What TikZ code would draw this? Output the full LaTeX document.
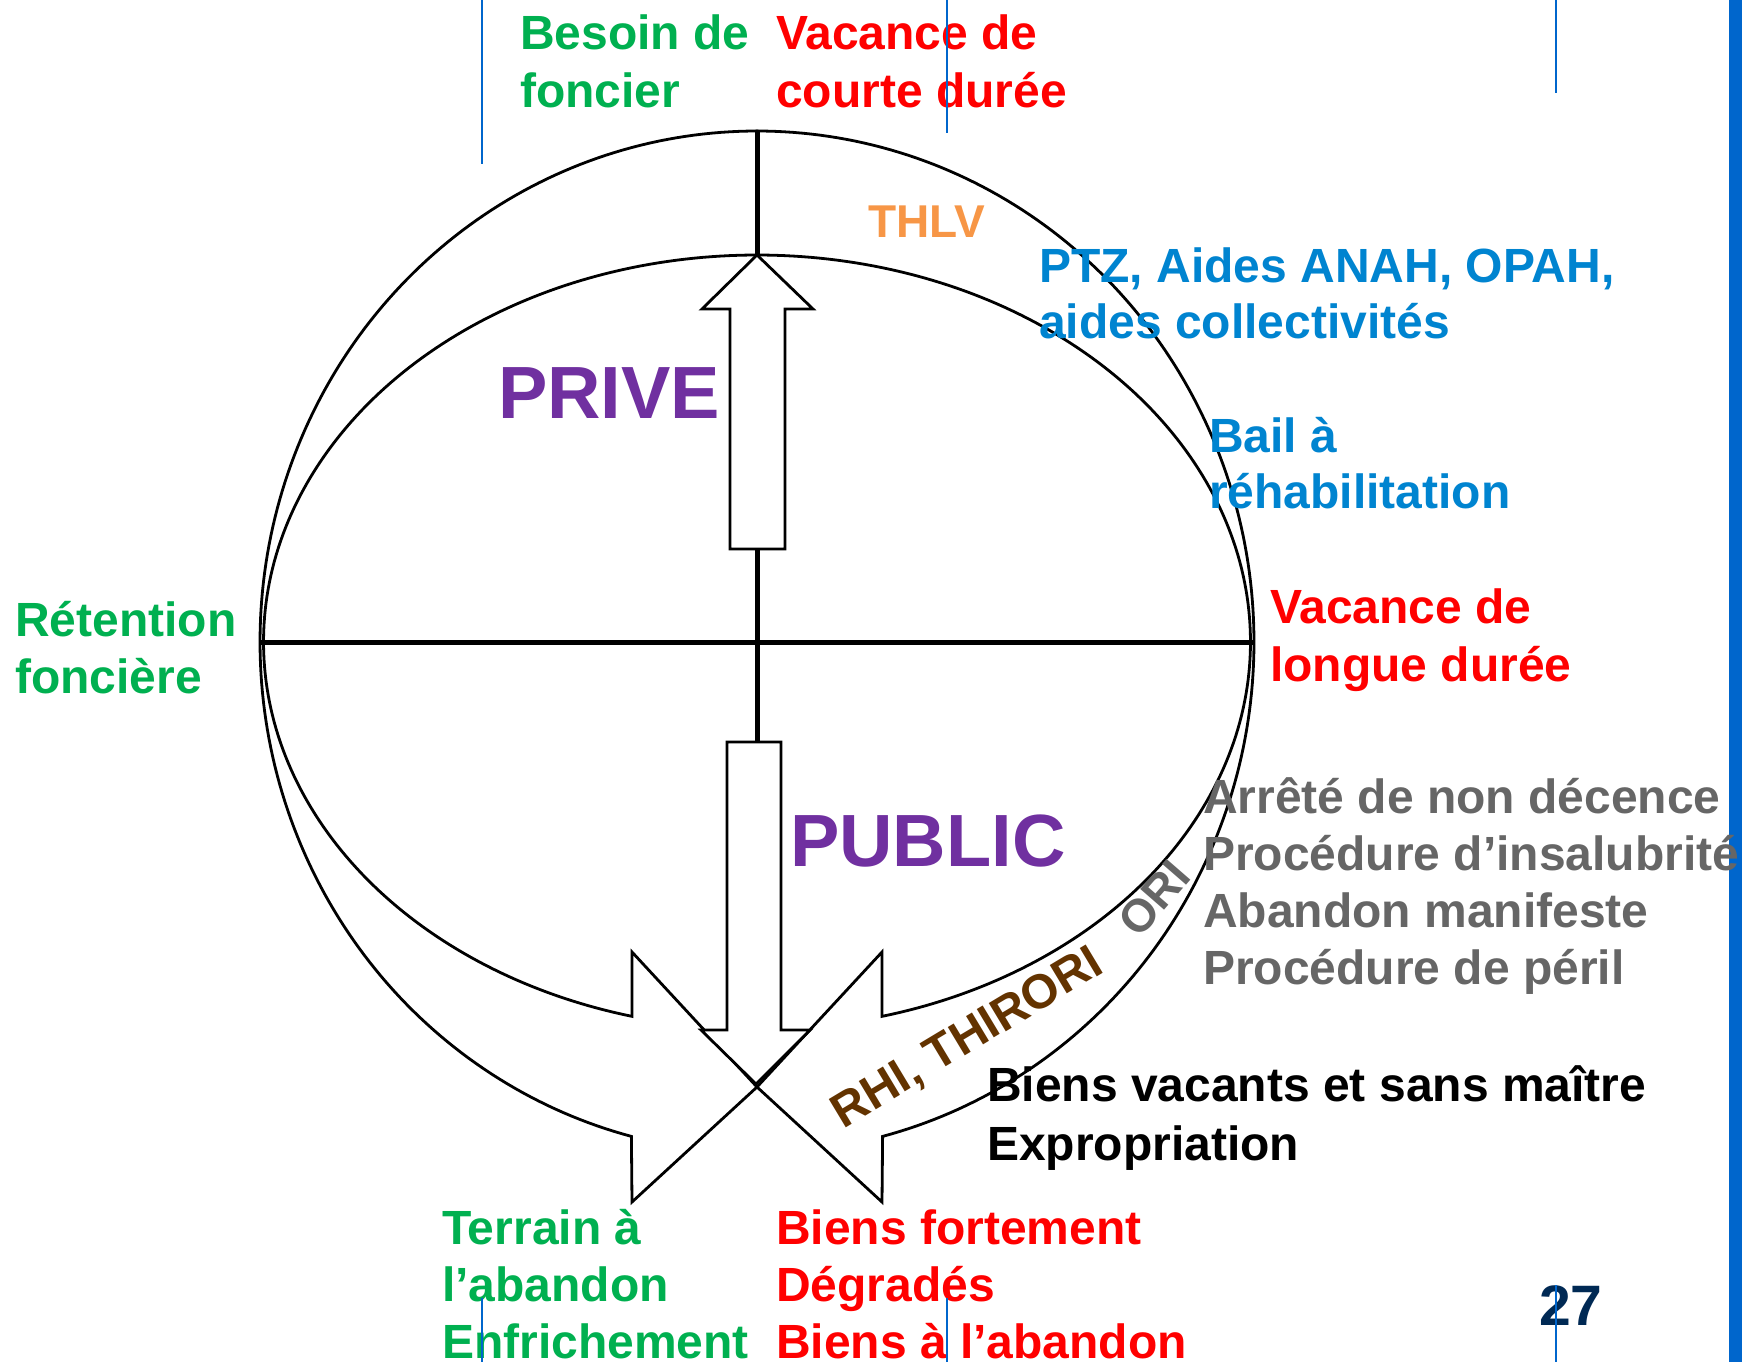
\documentclass[tikz,border=0pt]{standalone}
\usepackage{fontspec}
\setmainfont{Liberation Sans}
\definecolor{cgreen}{RGB}{0,176,80}
\definecolor{cred}{RGB}{255,0,0}
\definecolor{corange}{RGB}{247,150,70}
\definecolor{cblue}{RGB}{0,132,208}
\definecolor{cgray}{RGB}{102,102,102}
\definecolor{cpurple}{RGB}{112,48,160}
\definecolor{cbrown}{RGB}{99,51,0}
\definecolor{cnavy}{RGB}{0,41,84}
\definecolor{cbar}{RGB}{0,102,204}
\begin{document}
\begin{tikzpicture}[x=1pt,y=-1pt,
  lbl/.style={inner sep=0pt, anchor=base west, font=\fontsize{48}{58}\selectfont\bfseries},
  big/.style={inner sep=0pt, anchor=base west, font=\fontsize{74}{88}\selectfont\bfseries, text=cpurple},
  outline/.style={draw=black, line width=2.8pt, line join=miter},
  axis/.style={draw=black, line width=5pt},
  guide/.style={draw=cbar, line width=1.3pt}]
\useasboundingbox (0,0) rectangle (1742,1362);
\fill[white] (0,0) rectangle (1742,1362);

% right-hand slide bar
\fill[cbar] (1729,0) rectangle (1742,1362);

% named points of the figure
\coordinate (top) at (757,131);
\coordinate (bottom) at (757,742);
\coordinate (west) at (259,642);
\coordinate (east) at (1253,642);
\coordinate (tip) at (757,1087);

% left curved arrow (counter-clockwise, from the top round the left side)
\path[outline, fill=white]
  plot[domain=0:1, samples=160, variable=\u]
    ({757+497*cos(270-165.43*\u)}, {642+511*sin(270-165.43*\u)})
  -- (632,1202) -- (tip) -- (632,952)
  -- plot[domain=0:1, samples=160, variable=\u]
    ({757+493.5*cos(104.67+165.33*\u)}, {642+387*sin(104.67+165.33*\u)})
  -- cycle;

% right curved arrow (clockwise, from the top round the right side)
\path[outline, fill=white]
  plot[domain=0:1, samples=160, variable=\u]
    ({757+497*cos(-90+165.43*\u)}, {642+511*sin(-90+165.43*\u)})
  -- (882,1202) -- (tip) -- (882,952)
  -- plot[domain=0:1, samples=160, variable=\u]
    ({757+493.5*cos(75.33-165.33*\u)}, {642+387*sin(75.33-165.33*\u)})
  -- cycle;

% cross of axes
\draw[axis] (top) -- (bottom);
\draw[axis] (west) -- (east);

% up arrow (PRIVE)
\path[outline, fill=white] (757,255) -- (813,309) -- (785,309) -- (785,549)
  -- (730,549) -- (730,309) -- (702,309) -- cycle;

% down arrow (PUBLIC)
\path[outline, fill=white] (727,742) -- (781,742) -- (781,1030) -- (810,1030)
  -- (756,1084) -- (701,1030) -- (727,1030) -- cycle;

% labels at the top
\node[lbl, text=cgreen] (besoinA) at (520,50) {Besoin de};
\node[lbl, text=cgreen] (besoinB) at (520,108) {foncier};
\node[lbl, text=cred] (courteA) at (776,50) {Vacance de};
\node[lbl, text=cred] (courteB) at (776,108) {courte durée};

% private side
\node[lbl, text=corange, font=\fontsize{46}{55}\selectfont\bfseries] (thlv) at (868,237) {THLV};
\node[lbl, text=cblue] (ptzA) at (1039,282) {PTZ, Aides ANAH, OPAH,};
\node[lbl, text=cblue] (ptzB) at (1039,338) {aides collectivités};
\node[lbl, text=cblue] (bailA) at (1209,452) {Bail à};
\node[lbl, text=cblue] (bailB) at (1209,508) {réhabilitation};
\node[big] (prive) at (498,418) {PRIVE};

% sides
\node[lbl, text=cgreen] (retA) at (15,636) {Rétention};
\node[lbl, text=cgreen] (retB) at (15,693) {foncière};
\node[lbl, text=cred] (longueA) at (1270,623) {Vacance de};
\node[lbl, text=cred] (longueB) at (1270,681) {longue durée};

% public side
\node[big] (public) at (790,866) {PUBLIC};
\node[lbl, text=cgray] (procA) at (1203,813) {Arrêté de non décence};
\node[lbl, text=cgray] (procB) at (1203,870) {Procédure d’insalubrité};
\node[lbl, text=cgray] (procC) at (1203,927) {Abandon manifeste};
\node[lbl, text=cgray] (procD) at (1203,984) {Procédure de péril};
\node[lbl, text=black] (biensA) at (987,1101) {Biens vacants et sans maître};
\node[lbl, text=black] (biensB) at (987,1160) {Expropriation};
\node[inner sep=0pt, text=cbrown, font=\fontsize{48}{58}\selectfont\bfseries, rotate=31] (rhi) at (968,1039) {RHI, THIRORI};
\node[inner sep=0pt, text=cgray, font=\fontsize{46}{55}\selectfont\bfseries, rotate=49] (ori) at (1154,898) {ORI};

% labels at the bottom
\node[lbl, text=cgreen] (terrA) at (442,1244) {Terrain à};
\node[lbl, text=cgreen] (terrB) at (442,1301) {l’abandon};
\node[lbl, text=cgreen] (terrC) at (442,1358) {Enfrichement};
\node[lbl, text=cred] (degA) at (776,1244) {Biens fortement};
\node[lbl, text=cred] (degB) at (776,1301) {Dégradés};
\node[lbl, text=cred] (degC) at (776,1358) {Biens à l’abandon};

% page number
\node[lbl, text=cnavy, font=\fontsize{57}{68}\selectfont\bfseries] (page) at (1539,1325) {27};

% thin layout guides
\draw[guide] (482,0) -- (482,164);
\draw[guide] (947,0) -- (947,133);
\draw[guide] (1556,0) -- (1556,93);
\draw[guide] (482,1298) -- (482,1362);
\draw[guide] (947,1298) -- (947,1362);
\draw[guide] (1556,1285) -- (1556,1362);
\end{tikzpicture}
\end{document}
